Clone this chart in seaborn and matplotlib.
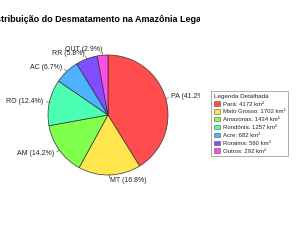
import numpy as np
import seaborn as sns
import matplotlib.pyplot as plt
from matplotlib.patches import Patch

# dados (km²)
siglas = ['PA', 'MT', 'AM', 'RO', 'AC', 'RR', 'OUT']
estados = ['Pará', 'Mato Grosso', 'Amazonas', 'Rondônia', 'Acre', 'Roraima', 'Outros']
area_km2 = [4172, 1702, 1434, 1257, 682, 590, 292]
cores = ['#FF4D4D', '#FFE64D', '#80FF4D', '#4DFFB3', '#4DB3FF', '#804DFF', '#FF4DE6']

sns.set_theme(style='white')
plt.rcParams['font.family'] = ['Liberation Sans', 'DejaVu Sans']

W, H = 300, 240
fig = plt.figure(figsize=(W / 100, H / 100), dpi=100)
# área do gráfico: 0..200 px em x, altura total
ax = fig.add_axes([0, 0, 200 / W, 1])

total = sum(area_km2)
pct = [v / total * 100 for v in area_km2]
rotulos = [f'{s} ({p:.1f}%)' for s, p in zip(siglas, pct)]

wedges, textos = ax.pie(area_km2, labels=rotulos, colors=cores, startangle=90,
                        counterclock=False, labeldistance=1.1,
                        wedgeprops=dict(edgecolor='#333333', linewidth=0.5),
                        textprops=dict(fontsize=5.0, color='#222222'))

# marcas curtas nos rótulos
for w in wedges:
    ang = np.deg2rad((w.theta1 + w.theta2) / 2)
    ax.plot([np.cos(ang), 1.05 * np.cos(ang)], [np.sin(ang), 1.05 * np.sin(ang)],
            color='#555555', lw=0.5)
for t in textos:
    t.set_clip_on(True)

# centro do pizza em (108, 115) px, raio 60 px
esc = 60.0
cx, cy = 108, 115
ax.set_aspect('auto')
ax.set_xlim(-cx / esc, (200 - cx) / esc)
ax.set_ylim(-(H - cy) / esc, cy / esc)
ax.axis('off')

ax.text(0.476, 1 - 19 / H, 'Distribuição do Desmatamento na Amazônia Legal',
        transform=ax.transAxes, ha='center', va='center', fontsize=6.5,
        fontweight='bold', color='black', clip_on=True)

handles = [Patch(facecolor=c, edgecolor='#555555', linewidth=0.4) for c in cores]
nomes = [f'{e}: {v} km²' for e, v in zip(estados, area_km2)]
leg = fig.legend(handles, nomes, title='Legenda Detalhada', loc='upper left',
                 bbox_to_anchor=(208 / W, 1 - 88 / H), fontsize=4.3, title_fontsize=4.5,
                 frameon=True, fancybox=False, edgecolor='#888888',
                 handlelength=1.0, handleheight=0.8, handletextpad=0.5,
                 labelspacing=0.42, borderpad=0.45, alignment='left')
leg.get_frame().set_linewidth(0.6)

fig.savefig('out.png', dpi=100)
